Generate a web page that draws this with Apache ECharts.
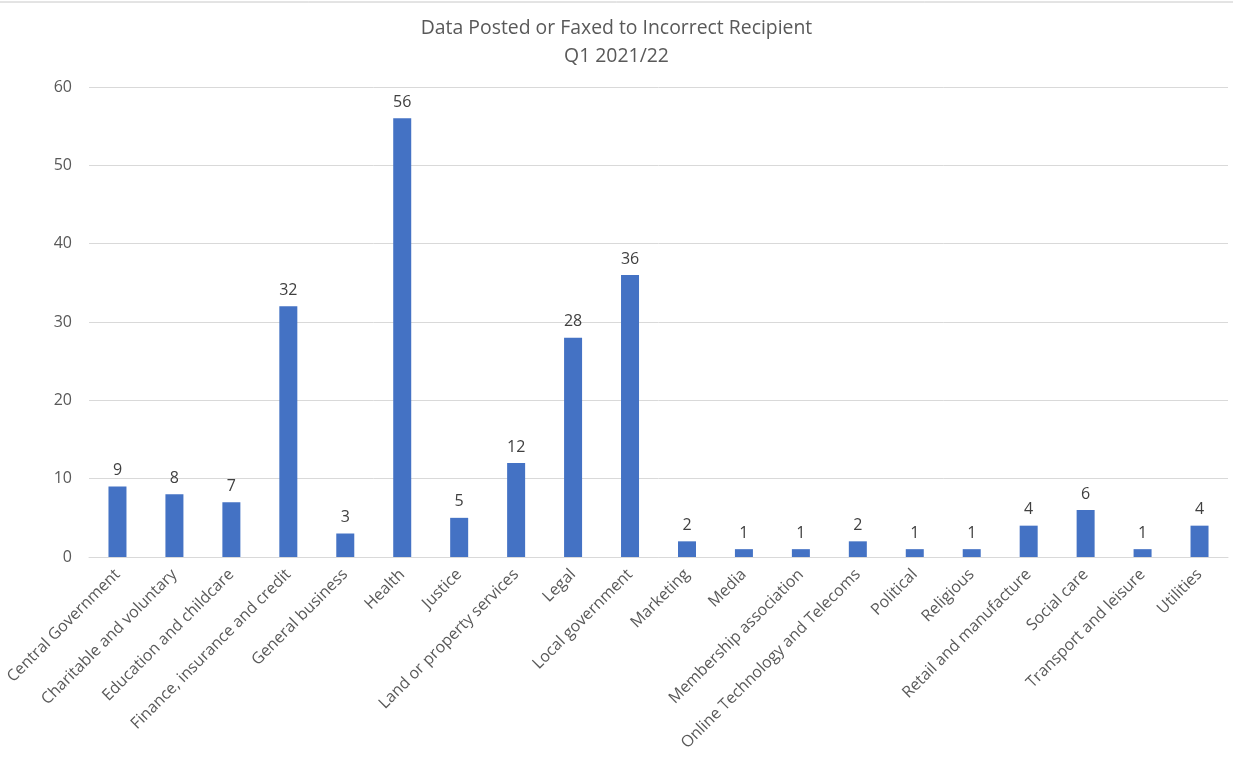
<!DOCTYPE html>
<html><head><meta charset="utf-8">
<script src="https://cdn.jsdelivr.net/npm/echarts@6/dist/echarts.min.js"></script>
<style>html,body{margin:0;padding:0;background:#fff}#c{width:1233px;height:759px}</style>
</head><body><div id="c"></div>
<script>
const categories = ["Central Government","Charitable and voluntary","Education and childcare","Finance, insurance and credit","General business","Health","Justice","Land or property services","Legal","Local government","Marketing","Media","Membership association","Online Technology and Telecoms","Political","Religious","Retail and manufacture","Social care","Transport and leisure","Utilities"];
const values = [9,8,7,32,3,56,5,12,28,36,2,1,1,2,1,1,4,6,1,4];
const titleLines = ["Data Posted or Faxed to Incorrect Recipient","Q1 2021/22"];
const font = "'Open Sans', sans-serif";
const chart = echarts.init(document.getElementById('c'), null, {renderer:'canvas'});
chart.setOption({
  animation:false,
  title:{text:titleLines.join('\n'), left:'center', top:9,
    textStyle:{fontFamily:font, fontSize:19.4, fontWeight:'normal', color:'#595959', lineHeight:28}},
  graphic:[{type:'line', shape:{x1:0,y1:2,x2:1233,y2:2}, style:{stroke:'#c8c8c8', lineWidth:1}}],
  grid:{left:89, right:5, top:87, bottom:202},
  xAxis:{type:'category', data:categories,
    axisLine:{lineStyle:{color:'#d9d9d9'}}, axisTick:{show:false},
    axisLabel:{rotate:45, interval:0, fontFamily:font, fontSize:16, color:'#595959', margin:15}},
  yAxis:{type:'value', min:0, max:60, interval:10,
    axisLine:{show:false}, axisTick:{show:false},
    splitLine:{lineStyle:{color:'#d9d9d9'}},
    axisLabel:{fontFamily:font, fontSize:16, color:'#595959', margin:17}},
  series:[{type:'bar', data:values, barWidth:18, itemStyle:{color:'#4472c4'},
    label:{show:true, position:'top', fontFamily:font, fontSize:16, color:'#404040', distance:8}}]
});
</script></body></html>
